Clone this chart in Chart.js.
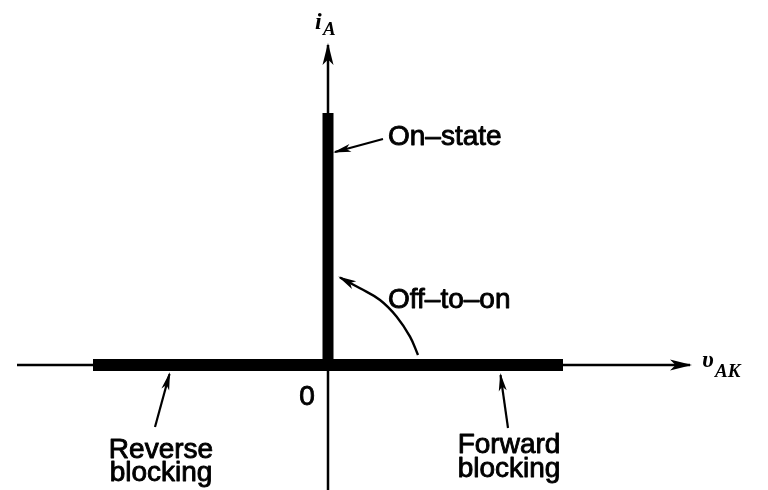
<!DOCTYPE html>
<html>
<head>
<meta charset="utf-8">
<script src="https://cdn.jsdelivr.net/npm/chart.js@4.4.1/dist/chart.umd.min.js"></script>
<style>
  html, body { margin: 0; padding: 0; background: #ffffff; }
  #thyristor { display: block; }
</style>
</head>
<body>
<canvas id="thyristor" width="768" height="490"></canvas>
<script>
//
//
// Data - ideal thyristor characteristic (arbitrary units)
var axis_x = [-3.11, 3.62];
var axis_y = [-1.25, 3.20];

var reverse_blocking_x = [-2.35, 0];
var forward_blocking_x = [0, 2.35];
var on_state_i = [0, 2.52];

// pointer lines for the labels
var on_state_pointer = [[0.55, 2.26], [0.07, 2.13]];
var reverse_pointer = [[-1.73, -0.62], [-1.585, -0.09]];
var forward_pointer = [[1.80, -0.63], [1.725, -0.10]];
var off_to_on_curve = [[0.90, 0.10], [0.82, 0.283], [0.687, 0.483], [0.52, 0.65], [0.32, 0.767], [0.12, 0.875]];

// text labels
var region_labels = ['On\u2013state', 'Off\u2013to\u2013on', 'Reverse', 'blocking', 'Forward', 'blocking'];
var origin_label = '0';
var current_label = ['i', 'A'];
var voltage_label = ['\u03c5', 'AK'];

//
//
// Helpers
function toPoints(pairs){
  var pts = [];
  for (var i = 0; i < pairs.length; i++){
    pts.push({ x: pairs[i][0], y: pairs[i][1] });
  }
  return pts;
}

function lineSet(points, width, extra){
  var ds = {
    data: points,
    showLine: true,
    fill: false,
    borderColor: '#000000',
    backgroundColor: '#000000',
    borderWidth: width,
    pointRadius: 0,
    tension: 0,
    borderCapStyle: 'butt'
  };
  for (var k in extra){ ds[k] = extra[k]; }
  return ds;
}

//
//
// Arrowheads drawn at the last point of a dataset
var arrowPlugin = {
  id: 'arrowHeads',
  afterDatasetsDraw: function(chart){
    var ctx = chart.ctx;
    var xs = chart.scales.x;
    var ys = chart.scales.y;
    chart.data.datasets.forEach(function(ds){
      if (!ds.arrow) return;
      var n = ds.data.length;
      var p1 = ds.data[n - 2];
      var p2 = ds.data[n - 1];
      var x1 = xs.getPixelForValue(p1.x), y1 = ys.getPixelForValue(p1.y);
      var x2 = xs.getPixelForValue(p2.x), y2 = ys.getPixelForValue(p2.y);
      var a = Math.atan2(y2 - y1, x2 - x1);
      var len = ds.arrow.length, half = ds.arrow.width / 2;
      var tx = x2 + Math.cos(a) * 2, ty = y2 + Math.sin(a) * 2;
      var bx = tx - Math.cos(a) * len, by = ty - Math.sin(a) * len;
      var nx = -Math.sin(a), ny = Math.cos(a);
      var ix = tx - Math.cos(a) * len * 0.75, iy = ty - Math.sin(a) * len * 0.75;
      ctx.save();
      ctx.fillStyle = '#000000';
      ctx.beginPath();
      ctx.moveTo(tx, ty);
      ctx.lineTo(bx + nx * half, by + ny * half);
      ctx.lineTo(ix, iy);
      ctx.lineTo(bx - nx * half, by - ny * half);
      ctx.closePath();
      ctx.fill();
      ctx.restore();
    });
  }
};

//
//
// Labels placed through the scales
var labelPlugin = {
  id: 'diagramLabels',
  afterDatasetsDraw: function(chart){
    var ctx = chart.ctx;
    var xs = chart.scales.x;
    var ys = chart.scales.y;
    function put(text, x, y, font, align, weight){
      var px = xs.getPixelForValue(x), py = ys.getPixelForValue(y);
      ctx.font = font;
      ctx.textAlign = align;
      ctx.textBaseline = 'alphabetic';
      ctx.fillText(text, px, py);
      if (weight){
        // the scanned lettering is heavier than the regular face
        ctx.lineWidth = weight;
        ctx.strokeText(text, px, py);
      }
    }
    ctx.save();
    ctx.fillStyle = '#000000';
    ctx.strokeStyle = '#000000';
    ctx.lineJoin = 'round';
    var sans = '28px "Liberation Sans", Arial, sans-serif';
    put(region_labels[0], 0.60, 2.20, sans, 'left', 0.9);
    put(region_labels[1], 0.60, 0.57, sans, 'left', 0.9);
    put(region_labels[2], -1.67, -0.93, sans, 'center', 0.9);
    put(region_labels[3], -1.67, -1.155, sans, 'center', 0.9);
    put(region_labels[4], 1.81, -0.88, sans, 'center', 0.9);
    put(region_labels[5], 1.81, -1.12, sans, 'center', 0.9);
    put(origin_label, -0.21, -0.40, sans, 'center', 0.9);

    var serif_big = 'italic bold 24px "Liberation Serif", "DejaVu Serif", serif';
    var serif_sub = 'italic bold 19px "Liberation Serif", "DejaVu Serif", serif';
    put(current_label[0], -0.13, 3.36, serif_big, 'left', 0);
    put(current_label[1], -0.05, 3.30, serif_sub, 'left', 0);
    put(voltage_label[0], 3.74, -0.02, serif_big, 'left', 0);
    put(voltage_label[1], 3.87, -0.12, serif_sub, 'left', 0);
    ctx.restore();
  }
};

//
//
// Draw Chart
var canvas = document.getElementById('thyristor');
var ctx = canvas.getContext('2d');

new Chart(ctx, {
  type: 'scatter',
  data: {
    datasets: [
      lineSet([{ x: axis_x[0], y: 0 }, { x: axis_x[1], y: 0 }], 2.5, { arrow: { length: 22, width: 11 } }),
      lineSet([{ x: 0, y: axis_y[0] }, { x: 0, y: axis_y[1] }], 2.5, { arrow: { length: 22, width: 11 } }),
      lineSet([{ x: reverse_blocking_x[0], y: 0 }, { x: reverse_blocking_x[1], y: 0 }], 12),
      lineSet([{ x: forward_blocking_x[0], y: 0 }, { x: forward_blocking_x[1], y: 0 }], 12),
      lineSet([{ x: 0, y: on_state_i[0] }, { x: 0, y: on_state_i[1] }], 11),
      lineSet(toPoints(on_state_pointer), 2.2, { arrow: { length: 18, width: 8 } }),
      lineSet(toPoints(reverse_pointer), 2.2, { arrow: { length: 18, width: 8 } }),
      lineSet(toPoints(forward_pointer), 2.2, { arrow: { length: 18, width: 8 } }),
      lineSet(toPoints(off_to_on_curve), 2.4, { tension: 0.4, arrow: { length: 18, width: 9 } })
    ]
  },
  options: {
    responsive: false,
    animation: false,
    devicePixelRatio: 1,
    layout: { padding: 0 },
    plugins: {
      legend: { display: false },
      tooltip: { enabled: false }
    },
    scales: {
      x: { type: 'linear', display: false, min: -3.28, max: 4.40 },
      y: { type: 'linear', display: false, min: -1.25, max: 3.65 }
    }
  },
  plugins: [arrowPlugin, labelPlugin]
});
</script>
</body>
</html>
